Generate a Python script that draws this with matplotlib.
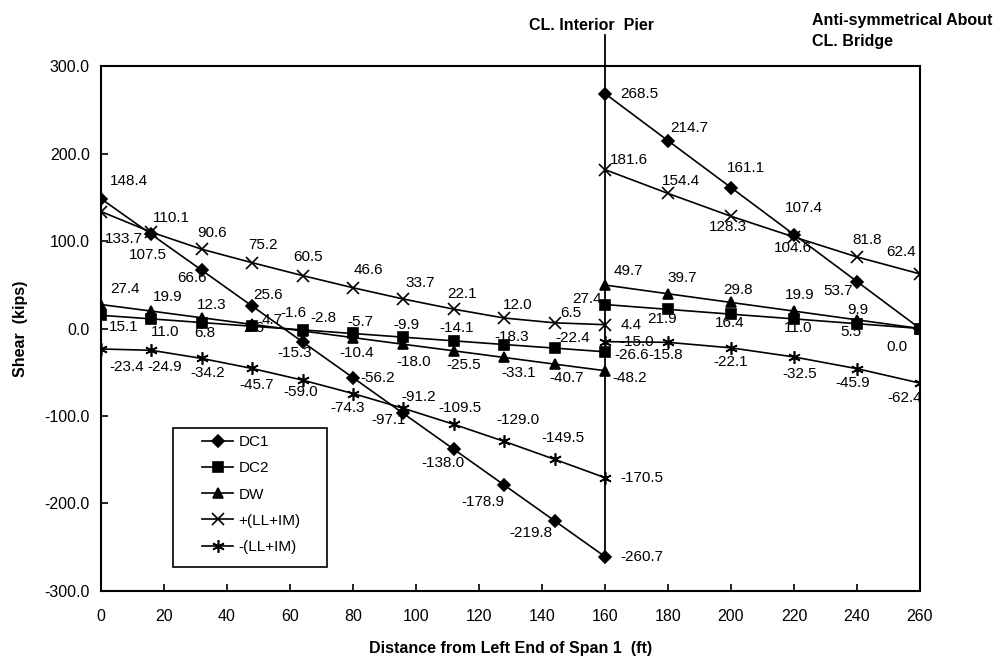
import numpy as np
import matplotlib
matplotlib.use("Agg")
import matplotlib.pyplot as plt
from matplotlib.patches import Rectangle

plt.rcParams['font.family'] = ['Liberation Sans', 'DejaVu Sans']

# stations (ft)
x_left = [0, 16, 32, 48, 64, 80, 96, 112, 128, 144, 160]
x_right = [160, 180, 200, 220, 240, 260]

# shear values (kips)
dc1_left = [148.4, 107.5, 66.6, 25.6, -15.3, -56.2, -97.1, -138.0, -178.9, -219.8, -260.7]
dc1_right = [268.5, 214.7, 161.1, 107.4, 53.7, 0.0]
dc2_left = [15.1, 11.0, 6.8, 2.6, -1.6, -5.7, -9.9, -14.1, -18.3, -22.4, -26.6]
dc2_right = [27.4, 21.9, 16.4, 11.0, 5.5, 0.0]
dw_left = [27.4, 19.9, 12.3, 4.7, -2.8, -10.4, -18.0, -25.5, -33.1, -40.7, -48.2]
dw_right = [49.7, 39.7, 29.8, 19.9, 9.9, 0.0]
llp_left = [133.7, 110.1, 90.6, 75.2, 60.5, 46.6, 33.7, 22.1, 12.0, 6.5, 4.4]
llp_right = [181.6, 154.4, 128.3, 104.6, 81.8, 62.4]
lln_left = [-23.4, -24.9, -34.2, -45.7, -59.0, -74.3, -91.2, -109.5, -129.0, -149.5, -170.5]
lln_right = [-15.0, -15.8, -22.1, -32.5, -45.9, -62.4]

names = ["DC1", "DC2", "DW", "+(LL+IM)", "-(LL+IM)"]
x_ticks = list(range(0, 261, 20))
y_ticks = [-300, -200, -100, 0, 100, 200, 300]

# label offsets in pixels (dx, dy with dy positive = up); None = no label
off_dc1_l = [(28, 18), (-4, -21), (-10, -8), (16, 11), (-8, -11), (25, 0), (-15, -7), (-11, -14), (-21, -17), (-24, -12), (37, 0)]
off_dc1_r = [(34, 0), (21, 13), (15, 20), (10, 27), (-19, -9), (-23, -18)]
off_dc2_l = [(23, -12), (14, -13), (3, -10), (2, -2), (-9, 17), (7, 11), (3, 12), (3, 13), (8, 8), (18, 10), (27, -3)]
off_dc2_r = [(-18, 6), (-6, -10), (-1, -9), (4, -9), (-6, -8), None]
off_dw_l = [(24, 16), (16, 14), (10, 13), (20, 4), (21, 13), (4, -15), (10, -18), (10, -14), (15, -16), (12, -14), (25, -7)]
off_dw_r = [(23, 14), (14, 16), (7, 12), (6, 16), (1, 10), None]
off_llp_l = [(23, -27), (20, 14), (10, 16), (11, 18), (5, 19), (15, 18), (17, 16), (8, 15), (14, 13), (16, 10), (26, 0)]
off_llp_r = [(24, 10), (13, 12), (-3, -11), (-1, -11), (10, 17), (-19, 22)]
off_lln_l = [(26, -18), (13, -17), (6, -15), (4, -17), (-2, -12), (-5, -14), (15, 11), (6, 16), (14, 21), (8, 21), (37, 0)]
off_lln_r = [(32, 0), (-2, -13), (0, -14), (6, -17), (-4, -14), (-15, -15)]

fig = plt.figure(figsize=(9.98, 6.59), dpi=100)
ax = fig.add_axes([0.1012, 0.1032, 0.8206, 0.7966])

series = [
    (dc1_left, dc1_right, 'D', 6, off_dc1_l, off_dc1_r),
    (dc2_left, dc2_right, 's', 7, off_dc2_l, off_dc2_r),
    (dw_left, dw_right, '^', 7, off_dw_l, off_dw_r),
    (llp_left, llp_right, 'x', 8, off_llp_l, off_llp_r),
    (lln_left, lln_right, (6, 2, 0), 9, off_lln_l, off_lln_r),
]

for name, (yl, yr, mk, ms, ol, orr) in zip(names, series):
    ax.plot(x_left, yl, color='black', lw=1.2, marker=mk, ms=ms, mew=1.2, label=name)
    ax.plot(x_right, yr, color='black', lw=1.2, marker=mk, ms=ms, mew=1.2)
    for xs, ys, offs in ((x_left, yl, ol), (x_right, yr, orr)):
        for xv, yv, o in zip(xs, ys, offs):
            if o is None:
                continue
            ax.annotate(f"{yv:.1f}", (xv, yv), xytext=o, textcoords='offset pixels',
                        ha='center', va='center', fontsize=11)

# centerline of interior pier
ax.plot([160, 160], [dc1_left[-1], 336], color='black', lw=1.3, clip_on=False)

ax.set_xlim(0, 260)
ax.set_ylim(-300, 300)
ax.set_xticks(x_ticks)
ax.set_yticks(y_ticks)
ax.set_yticklabels([f"{v:.1f}" for v in y_ticks])
ax.tick_params(direction='in', length=5, width=1.2, labelsize=11.5)
ax.tick_params(axis='x', pad=13)
ax.tick_params(axis='y', pad=8)
for s in ax.spines.values():
    s.set_linewidth(1.5)

ax.set_xlabel("Distance from Left End of Span 1  (ft)", fontsize=11.5, fontweight='bold', labelpad=12)
ax.set_ylabel("Shear  (kips)", fontsize=11.5, fontweight='bold', labelpad=12)

# legend box
ax.add_patch(Rectangle((0.088, 0.0457), 0.188, 0.265, transform=ax.transAxes,
                       fill=True, facecolor='white', edgecolor='black', lw=1.2, zorder=4))
leg = ax.legend(loc='upper left', bbox_to_anchor=(0.1233, 0.297), fontsize=11,
                frameon=False, borderpad=0, borderaxespad=0, labelspacing=0.8,
                handlelength=2.05, handletextpad=0.35)
leg.set_zorder(5)

fig.text(0.593, 0.962, "CL. Interior  Pier", ha='center', va='center', fontsize=11.5,
         fontweight='bold')
fig.text(0.8136, 0.98, "Anti-symmetrical About\nCL. Bridge", ha='left', va='top', fontsize=11.5,
         fontweight='bold', linespacing=1.45)

fig.savefig("out.png", dpi=100)
